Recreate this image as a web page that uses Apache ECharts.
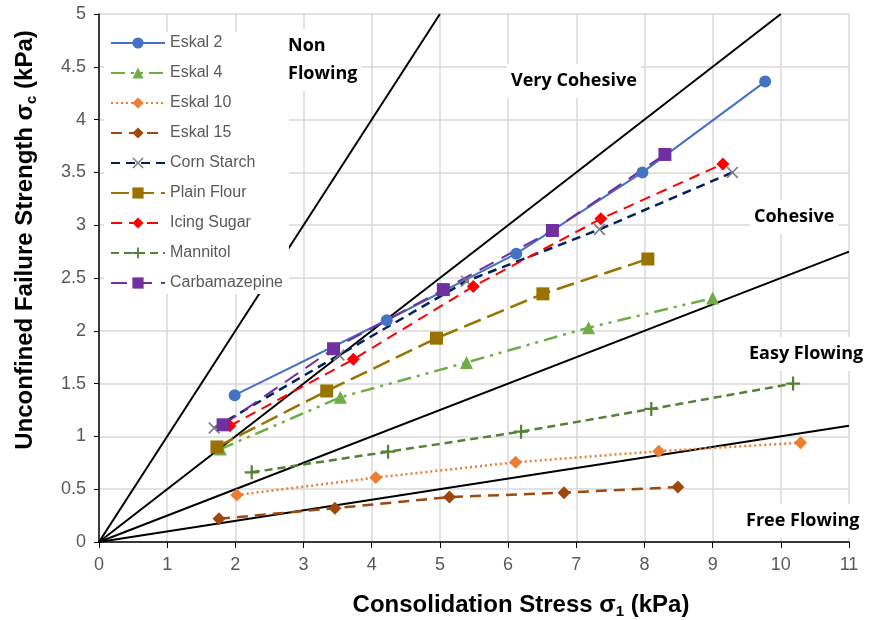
<!DOCTYPE html>
<html><head><meta charset="utf-8">
<script src="https://cdn.jsdelivr.net/npm/echarts@6/dist/echarts.min.js"></script>
<style>html,body{margin:0;padding:0;background:#fff}#c{width:870px;height:620px}</style>
</head><body><div id="c"></div>
<script>
const xTicks = [0,1,2,3,4,5,6,7,8,9,10,11];
const yTicks = [0,0.5,1,1.5,2,2.5,3,3.5,4,4.5,5];

const eskal2X = [1.99, 4.22, 6.12, 7.97, 9.77];
const eskal2Y = [1.39, 2.10, 2.73, 3.50, 4.36];
const eskal4X = [1.78, 3.54, 5.39, 7.18, 9.00];
const eskal4Y = [0.88, 1.37, 1.70, 2.03, 2.31];
const eskal10X = [2.02, 4.06, 6.11, 8.21, 10.29];
const eskal10Y = [0.445, 0.61, 0.755, 0.86, 0.94];
const eskal15X = [1.76, 3.46, 5.14, 6.82, 8.49];
const eskal15Y = [0.22, 0.32, 0.426, 0.467, 0.52];
const cornX = [1.69, 3.52, 5.39, 7.34, 9.29];
const cornY = [1.08, 1.77, 2.47, 2.96, 3.50];
const flourX = [1.73, 3.34, 4.95, 6.51, 8.05];
const flourY = [0.90, 1.43, 1.93, 2.35, 2.68];
const sugarX = [1.92, 3.73, 5.49, 7.36, 9.15];
const sugarY = [1.10, 1.73, 2.42, 3.06, 3.58];
const mannitolX = [2.24, 4.24, 6.19, 8.10, 10.18];
const mannitolY = [0.66, 0.855, 1.045, 1.26, 1.50];
const carbaX = [1.82, 3.44, 5.05, 6.65, 8.30];
const carbaY = [1.11, 1.83, 2.39, 2.95, 3.67];

// flow function boundary lines (ffc = 1, 2, 4, 10)
const ffcValues = [1, 2, 4, 10];
const boundaryEndX = [5, 10, 11, 11];

const zip = (xs, ys) => xs.map((x, i) => [x, ys[i]]);
const X_PATH = 'path://M1,0L5,4L9,0L10,1L6,5L10,9L9,10L5,6L1,10L0,9L4,5L0,1Z';
const PLUS_PATH = 'path://M4.2,0H5.8V4.2H10V5.8H5.8V10H4.2V5.8H0V4.2H4.2Z';

function ser(name, xs, ys, color, dash, symbol, size, width, markerColor) {
  return {
    name, type: 'line', data: zip(xs, ys), symbol, symbolSize: size,
    lineStyle: { color, width: width || 2, type: dash },
    itemStyle: { color: markerColor || color },
    z: 5
  };
}

const series = [];
ffcValues.forEach((f, i) => {
  series.push({
    type: 'line', silent: true, symbol: 'none', z: 3,
    data: [[0, 0], [boundaryEndX[i], boundaryEndX[i] / f]],
    lineStyle: { color: '#000', width: 2 }
  });
});
series.push(
  ser('Eskal 2', eskal2X, eskal2Y, '#4472C4', 'solid', 'circle', 12, 2),
  ser('Eskal 4', eskal4X, eskal4Y, '#70AD47', [14, 6, 3, 6, 3, 6], 'triangle', 13, 2.5),
  ser('Eskal 10', eskal10X, eskal10Y, '#ED7D31', [2, 3], 'diamond', 13, 2.5),
  ser('Eskal 15', eskal15X, eskal15Y, '#9E480E', [11, 7], 'diamond', 13, 2.5),
  ser('Corn Starch', cornX, cornY, '#002060', [9, 6], X_PATH, 12, 2.5, '#7F7F7F'),
  ser('Plain Flour', flourX, flourY, '#997300', [18, 7], 'rect', 13, 2.5),
  ser('Icing Sugar', sugarX, sugarY, '#FF0000', [11, 7], 'diamond', 13, 2),
  ser('Mannitol', mannitolX, mannitolY, '#548235', [8, 5], PLUS_PATH, 14, 2.5),
  ser('Carbamazepine', carbaX, carbaY, '#7030A0', [16, 9], 'rect', 13, 2)
);

const lbl = (text, x, y) => ({
  type: 'text', left: x, top: y, z: 10,
  style: { text, font: 'bold 18px "Open Sans", sans-serif', fill: '#000',
           backgroundColor: '#fff', padding: [3, 4], lineHeight: 28 }
});

const FONT = '"Liberation Sans", Arial, sans-serif';
const richTitle = {
  t: { fontSize: 24, fontWeight: 'bold', color: '#000', fontFamily: FONT },
  s: { fontSize: 15, fontWeight: 'bold', color: '#000', fontFamily: FONT, padding: [12, 0, 0, 0] }
};

const chart = echarts.init(document.getElementById('c'));
chart.setOption({
  animation: false,
  backgroundColor: '#fff',
  grid: { left: 99, right: 21, top: 14, bottom: 78, containLabel: false, outerBoundsMode: 'none' },
  xAxis: {
    type: 'value', min: 0, max: 11, interval: 1,
    axisLine: { lineStyle: { color: '#000', width: 1.5 } },
    axisTick: { show: true, length: 6, lineStyle: { color: '#000' } },
    splitLine: { lineStyle: { color: '#D9D9D9', width: 1.5 } },
    axisLabel: { color: '#595959', fontSize: 18, fontFamily: FONT, margin: 14 },
    name: '{t|Consolidation Stress σ}{s|1}{t| (kPa)}',
    nameLocation: 'middle', nameGap: 50,
    nameTextStyle: { padding: [0, 0, 0, 94], rich: richTitle }
  },
  yAxis: {
    type: 'value', min: 0, max: 5, interval: 0.5,
    axisLine: { show: true, lineStyle: { color: '#000', width: 1.5 } },
    axisTick: { show: true, length: 5, lineStyle: { color: '#000' } },
    splitLine: { lineStyle: { color: '#D9D9D9', width: 1.5 } },
    axisLabel: { color: '#595959', fontSize: 18, fontFamily: FONT, margin: 13,
                 formatter: v => String(v) },
    name: '{t|Unconfined Failure Strength σ}{s|c}{t| (kPa)}',
    nameLocation: 'middle', nameGap: 60, nameRotate: 90,
    nameTextStyle: { padding: [0, 0, 0, 76], rich: richTitle }
  },
  legend: {
    data: ['Eskal 2','Eskal 4','Eskal 10','Eskal 15','Corn Starch','Plain Flour','Icing Sugar','Mannitol','Carbamazepine'],
    orient: 'vertical', left: 104, top: 32, itemGap: 14, itemWidth: 54, itemHeight: 14,
    backgroundColor: '#fff', padding: [3, 6, 3, 6],
    textStyle: { color: '#595959', fontSize: 16, fontFamily: FONT }
  },
  graphic: [
    lbl('Non\nFlowing', 284, 29),
    lbl('Very Cohesive', 507, 64),
    lbl('Cohesive', 750, 200),
    lbl('Easy Flowing', 745, 337),
    lbl('Free Flowing', 742, 504)
  ],
  series
});
</script></body></html>
